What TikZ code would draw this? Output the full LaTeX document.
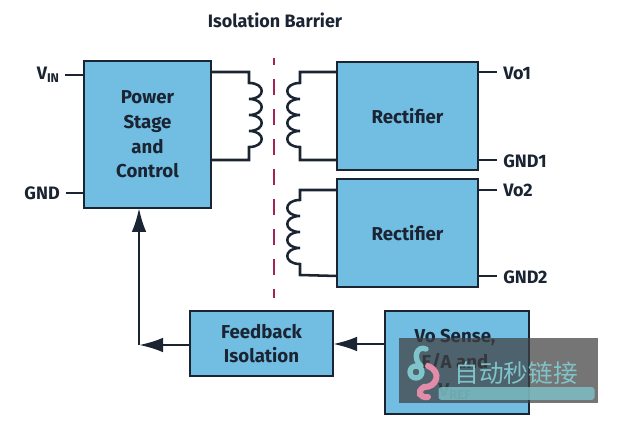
\documentclass[tikz,border=0pt]{standalone}
\usepackage{fontspec}
\setmainfont{Fira Sans}
\newfontfamily\cjkfont{Noto Sans CJK SC}
\usepackage{tikz}
\usetikzlibrary{arrows.meta,positioning,calc}
\usepackage{xcolor}
\definecolor{boxblue}{RGB}{114,189,226}
\definecolor{inkdark}{RGB}{27,36,50}
\definecolor{barrierred}{RGB}{163,35,85}
\definecolor{marktext}{RGB}{126,196,202}
\definecolor{markpink}{RGB}{226,140,170}
\newcommand{\coillobes}[1]{.. controls +(#1,0) and +(#1,0) .. ++(0,16) .. controls +(#1,0) and +(#1,0) .. ++(0,16) .. controls +(#1,0) and +(#1,0) .. ++(0,16) .. controls +(#1,0) and +(#1,0) .. ++(0,16)}

\begin{document}
\begin{tikzpicture}[x=0.75pt, y=-0.75pt,
    block/.style={rectangle, draw=inkdark, line width=1.9pt, fill=boxblue, align=center,
                  outer sep=0pt, inner sep=0pt, text=inkdark, font=\fontsize{14}{18}\selectfont\bfseries},
    pinlabel/.style={text=inkdark, inner sep=0pt, font=\fontsize{13.5}{16}\selectfont\bfseries},
    wire/.style={draw=inkdark, line width=1.9pt},
    arrow/.style={wire, -{Latex[length=18pt,width=11pt]}}
]
\useasboundingbox (0,0) rectangle (618,424);

\node[pinlabel] (title) at (275,20) {Isolation Barrier};

\node[block, minimum width=95.25pt, minimum height=110.25pt] (power) at (147.5,134.5)
    {Power\\[0.5pt]Stage\\[0.5pt]and\\[0.5pt]Control};
\node[block, minimum width=105.75pt, minimum height=81pt] (rect1) at (407.5,116) {Rectifier};
\node[block, minimum width=105.75pt, minimum height=81pt] (rect2) at (407.5,233) {Rectifier};
\node[block, minimum width=107.25pt, minimum height=48.75pt] (fbiso) at (261.5,343.5) {Feedback\\[0.5pt]Isolation};
\node[block, minimum width=108pt, minimum height=77.25pt] (sense) at (457,362.5) {};
\node[font=\fontsize{14}{18}\selectfont\bfseries, text=inkdark, align=center, inner sep=0pt] (sensetext) at (455,364)
    {Vo Sense,\\[1.5pt]E/A and\\[3pt]V\textsubscript{REF}};

% isolation barrier
\coordinate (bartop) at (274,58);
\coordinate (barbot) at (274,298);
\draw[barrierred, line width=2.2pt, dash pattern=on 12pt off 10.5pt, dash phase=6.75pt] (bartop) -- (barbot);

% pins
\node[pinlabel, anchor=east] (vin) at (60,75) {V\textsubscript{IN}};
\node[pinlabel, anchor=east] (gnd) at (60,193) {GND};
\node[pinlabel, anchor=west] (vo1) at (503,73) {Vo1};
\node[pinlabel, anchor=west] (gnd1) at (503,161) {GND1};
\node[pinlabel, anchor=west] (vo2) at (503,190) {Vo2};
\node[pinlabel, anchor=west] (gnd2) at (503,277) {GND2};

\draw[wire] (vin.east |- 0,75) ++(5,0) -- (power.west |- 0,75);
\draw[wire] (gnd.east) ++(6,0) -- (power.west |- gnd);
\draw[wire] (rect1.east |- 0,72) -- ++(19,0);
\draw[wire] (rect1.east |- 0,160) -- ++(19,0);
\draw[wire] (rect2.east |- 0,190) -- ++(19,0);
\draw[wire] (rect2.east |- 0,276) -- ++(19,0);

% transformer windings
\draw[wire] (power.east |- 0,72) -- ++(38,0) -- ++(0,11) \coillobes{17} -- ++(0,13) -- (power.east |- 0,160);
\draw[wire] (rect1.west |- 0,72) -- ++(-37,0) -- ++(0,11) \coillobes{-17} -- ++(0,13) -- (rect1.west |- 0,160);
\draw[wire] (rect2.west |- 0,190) -- ++(-37,0) -- ++(0,10) \coillobes{-17} -- ++(0,11) -- (rect2.west |- 0,276);

% feedback path
\coordinate (fbcorner) at (139,345);
\draw[arrow] (sense.west |- 0,344) -- (fbiso.east |- 0,344);
\draw[arrow] (fbiso.west |- fbcorner) -- (fbcorner);
\draw[arrow] (fbcorner) -- (power.south -| fbcorner);

% overlay mark
\node[rectangle, fill=black!75, fill opacity=0.72, minimum width=149.25pt, minimum height=48.75pt,
      inner sep=0pt] (markbox) at (498.5,370.5) {};
\node[text=marktext, font=\fontsize{18.5}{20}\cjkfont, inner sep=0pt] (marktitle) at (516,373) {自动秒链接};
\node[rectangle, rounded corners=2pt, fill=marktext, fill opacity=0.8, minimum width=117pt, minimum height=9.5pt,
      inner sep=0pt] (markpill) at (516.5,393.5) {};
\draw[marktext, line width=4pt] (416,372) circle[radius=6];
\draw[marktext, line width=4pt, line cap=round] (421,366) .. controls (412,358) and (417,345) .. (426,349);
\draw[markpink, line width=4.5pt, line cap=round] (428,366) .. controls (443,372) and (436,388) .. (424,387) .. controls (416,392) and (420,398) .. (428,397);
\end{tikzpicture}
\end{document}
